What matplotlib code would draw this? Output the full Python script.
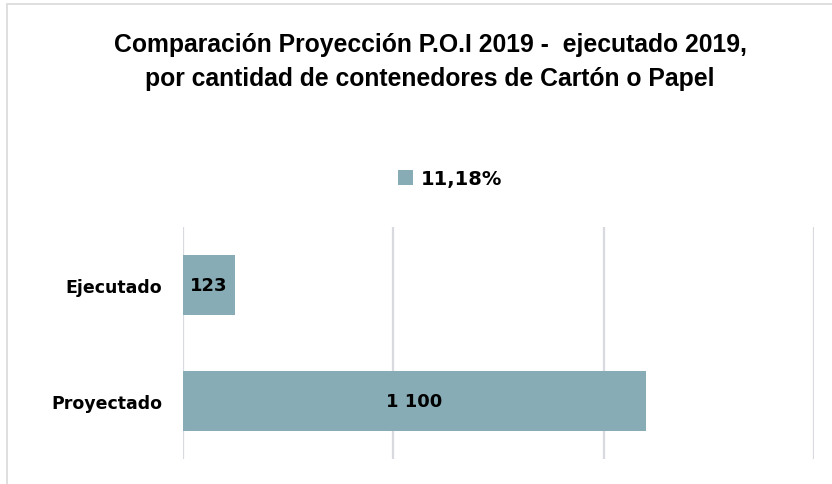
import matplotlib.pyplot as plt
from matplotlib.patches import Rectangle

# --- data ---
categories = ["Proyectado", "Ejecutado"]
values = [1100, 123]
value_labels = ["1 100", "123"]
series_name = "11,18%"
title = "Comparación Proyección P.O.I 2019 -  ejecutado 2019,\npor cantidad de contenedores de Cartón o Papel"

bar_color = "#87ACB5"
grid_color = "#D9D9E0"

fig = plt.figure(figsize=(8.32, 4.85), dpi=100)
fig.patch.set_facecolor("white")

# faint outer frame
fig.add_artist(Rectangle((7 / 832, -0.01), 1.0, 1 - 5 / 485 + 0.01, transform=fig.transFigure,
                         fill=False, edgecolor="#D9D9D9", linewidth=1.2))

ax = fig.add_axes([183 / 832, 1 - 460 / 485, (814 - 183) / 832, (460 - 228) / 485])
bars = ax.barh(range(len(categories)), values, height=0.51, color=bar_color, zorder=2)

ax.set_xlim(0, 1500)
ax.set_ylim(-0.5, 1.5)
ax.set_xticks([0, 500, 1000, 1500])
ax.xaxis.grid(True, color=grid_color, linewidth=1.6, zorder=0)
ax.tick_params(axis="x", length=0, labelbottom=False)
ax.tick_params(axis="y", length=0, pad=15)
ax.set_yticks(range(len(categories)))
ax.set_yticklabels(categories, fontsize=12.5, fontweight="bold", family="DejaVu Sans")
for s in ax.spines.values():
    s.set_visible(False)

for rect, lab in zip(bars, value_labels):
    ax.text(rect.get_width() / 2, rect.get_y() + rect.get_height() / 2, lab,
            ha="center", va="center", fontsize=13, fontweight="bold",
            family="DejaVu Sans", color="black", zorder=3)

fig.text(430 / 832, 1 - 62 / 485, title, ha="center", va="center", fontsize=17.8,
         fontweight="bold", family=["Liberation Sans Narrow", "Liberation Sans"],
         linespacing=1.5)

leg = fig.legend([bars[0]], [series_name], loc="center", bbox_to_anchor=(450 / 832, 1 - 180 / 485),
                 frameon=False, handlelength=0.8, handleheight=0.8, handletextpad=0.4,
                 prop={"size": 14, "weight": "bold", "family": "DejaVu Sans"})

fig.savefig("out.png", dpi=100)
